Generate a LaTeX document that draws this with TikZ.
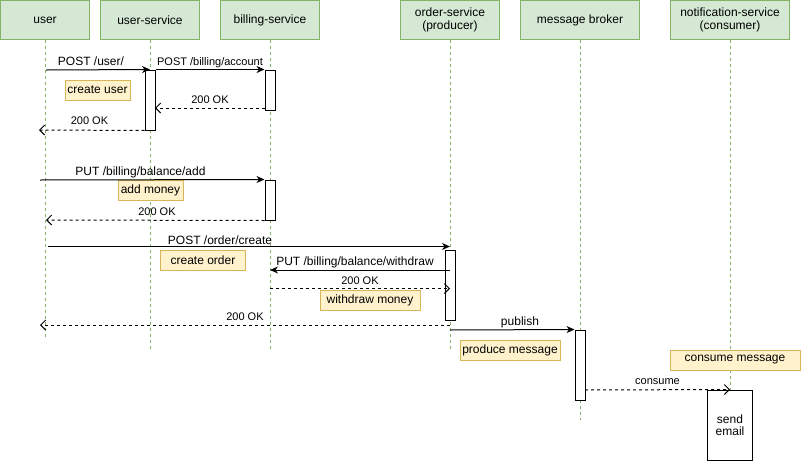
\documentclass[tikz,border=0pt]{standalone}
\usepackage{fontspec}
\setmainfont{Liberation Sans}
\usetikzlibrary{arrows.meta}

\definecolor{hdrfill}{HTML}{D5E8D4}
\definecolor{hdrline}{HTML}{82B366}
\definecolor{notefill}{HTML}{FFF2CC}
\definecolor{noteline}{HTML}{D6B656}

\tikzset{
  header/.style={draw=hdrline, fill=hdrfill, line width=1pt, minimum height=39pt,
    inner sep=0pt, align=center, font=\fontsize{12}{13.5}\selectfont},
  lifeline/.style={draw=hdrline, line width=1pt, dash pattern=on 3pt off 3pt},
  actbox/.style={draw=black, fill=white, line width=1pt, minimum width=10pt, inner sep=0pt},
  notebox/.style={draw=noteline, fill=notefill, line width=1pt, minimum height=20pt,
    inner sep=0pt, font=\fontsize{12}{14}\selectfont},
  call/.style={line width=1pt, -{Stealth[length=8pt,width=7pt,inset=2.5pt]}},
  reply/.style={line width=1pt, dash pattern=on 3pt off 3pt,
    -{Straight Barb[length=5pt,width=10pt,line width=1pt]}},
  msg/.style={anchor=base, inner sep=0pt, font=\fontsize{12}{14}\selectfont},
  msgsmall/.style={msg, font=\fontsize{11}{13}\selectfont},
}

\begin{document}
\begin{tikzpicture}[x=1pt, y=-1pt]
\useasboundingbox (0,0) rectangle (801,461);

% participants
\node[header, minimum width=89pt]  (user)  at (45,20)  {user};
\node[header, minimum width=99pt]  (usvc)  at (150,20) {user-service};
\node[header, minimum width=99pt]  (bsvc)  at (270,20) {billing-service};
\node[header, minimum width=99pt]  (osvc)  at (450,20) {order-service\\(producer)};
\node[header, minimum width=119pt] (broker) at (580,20) {message broker};
\node[header, minimum width=119pt] (nsvc)  at (730,20) {notification-service\\(consumer)};

% lifeline ends
\coordinate (userEnd)   at (45,337);
\coordinate (usvcEnd)   at (150,349);
\coordinate (bsvcEnd)   at (270,349);
\coordinate (osvcEnd)   at (450,349);
\coordinate (brokerEnd) at (580,420);
\coordinate (nsvcEnd)   at (730,390);

\draw[lifeline] (user.south)   -- (userEnd);
\draw[lifeline] (usvc.south)   -- (usvcEnd);
\draw[lifeline] (bsvc.south)   -- (bsvcEnd);
\draw[lifeline] (osvc.south)   -- (osvcEnd);
\draw[lifeline] (broker.south) -- (brokerEnd);
\draw[lifeline] (nsvc.south)   -- (nsvcEnd);

% activations
\node[actbox, minimum height=60pt] (actUser)   at (150,100) {};
\node[actbox, minimum height=40pt] (actBill1)  at (270,90)  {};
\node[actbox, minimum height=40pt] (actBill2)  at (270,200) {};
\node[actbox, minimum height=70pt] (actOrder)  at (450,285) {};
\node[actbox, minimum height=70pt] (actBroker) at (580,365) {};
\node[actbox, minimum width=45pt, minimum height=70pt, align=center,
      font=\fontsize{12}{12.5}\selectfont] (sendMail) at (730,425) {send\\email};

% notes
\node[notebox, minimum width=65pt]  (nCreateUser)  at (97.5,90)  {create user};
\node[notebox, minimum width=65pt]  (nAddMoney)    at (150.5,190.5) {add money};
\node[notebox, minimum width=85pt]  (nCreateOrder) at (203,260)  {create order};
\node[notebox, minimum width=100pt] (nWithdraw)    at (370,300)  {withdraw money};
\node[notebox, minimum width=100pt] (nProduce)     at (510,350)  {produce message};
\node[notebox, minimum width=130pt] (nConsume)     at (735,360)  {consume message};

% message end points
\coordinate (m1s) at (46,70);
\coordinate (m3e) at (155,108);
\coordinate (m3s) at (265,108);
\coordinate (m4e) at (39,130);
\coordinate (m5s) at (40,180);
\coordinate (m6e) at (46,220);
\coordinate (m7s) at (48,246.5);
\coordinate (m7e) at (450,246.5);
\coordinate (m8s) at (450,270);
\coordinate (m8e) at (270,270);
\coordinate (m9s) at (270,288.5);
\coordinate (m9e) at (450,288.5);
\coordinate (m10s) at (450,325);
\coordinate (m10e) at (40,325);
\coordinate (m11s) at (450,330);
\coordinate (m12s) at (585,390);

% messages
\draw[call]  (m1s) -- (actUser.north);
\draw[call]  (actUser.north east) -- (actBill1.north west);
\draw[reply] (m3s) -- (m3e);
\draw[reply] (actUser.south west) -- (m4e);
\draw[call]  (m5s) -- (actBill2.north west);
\draw[reply] (actBill2.south west) -- (m6e);
\draw[call]  (m7s) -- (m7e);
\draw[call]  (m8s) -- (m8e);
\draw[reply] (m9s) -- (m9e);
\draw[reply] (m10s) -- (m10e);
\draw[call]  (m11s) -- (actBroker.north west);
\draw[reply] (m12s) -- (sendMail.north);

% message labels
\node[msg]      (l1)  at (91,65)    {POST /user/};
\node[msgsmall] (l2)  at (210,65)   {POST /billing/account};
\node[msgsmall] (l3)  at (210,103)  {200 OK};
\node[msgsmall] (l4)  at (89.5,124.5) {200 OK};
\node[msg]      (l5)  at (140.5,175) {PUT /billing/balance/add};
\node[msgsmall] (l6)  at (157,215)  {200 OK};
\node[msg]      (l7)  at (220,244)  {POST /order/create};
\node[msg]      (l8)  at (355,265)  {PUT /billing/balance/withdraw};
\node[msgsmall] (l9)  at (360,284)  {200 OK};
\node[msgsmall] (l10) at (245,320.5) {200 OK};
\node[msg]      (l11) at (520,325)  {publish};
\node[msgsmall] (l12) at (657.5,384.5) {consume};
\end{tikzpicture}
\end{document}
